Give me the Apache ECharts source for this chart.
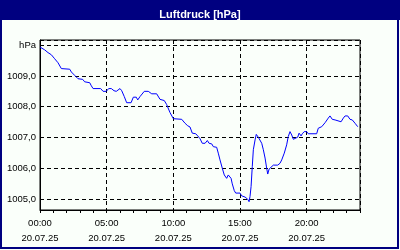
<!DOCTYPE html>
<html><head><meta charset="utf-8">
<script src="https://cdn.jsdelivr.net/npm/echarts@6/dist/echarts.min.js"></script>
<style>html,body{margin:0;padding:0;background:#fafffa}#c{width:400px;height:250px}</style>
</head><body><div id="c"></div>
<script>
const chartTitle = 'Luftdruck [hPa]';
const hours = [0.0,0.35,0.6,0.85,1.1,1.35,1.6,2.23,2.35,2.6,2.85,3.2,3.35,3.73,3.85,3.98,4.55,4.73,4.97,5.15,5.35,5.55,5.72,5.87,6.0,6.13,6.32,6.5,6.83,7.0,7.22,7.33,7.5,7.82,8.12,8.38,8.75,9.0,9.32,9.5,9.75,10.0,10.63,10.88,11.08,11.25,11.42,11.68,11.83,12.0,12.17,12.38,12.55,12.68,12.88,13.0,13.25,13.37,13.5,13.67,13.82,14.0,14.12,14.25,14.33,14.42,14.57,14.68,15.0,15.13,15.38,15.58,15.68,15.75,15.83,15.92,16.0,16.13,16.22,16.37,16.5,16.63,16.75,16.88,17.0,17.08,17.18,17.33,17.5,17.83,18.0,18.13,18.32,18.5,18.62,18.75,18.88,19.0,19.13,19.33,19.43,19.58,19.67,19.82,20.0,20.12,20.75,20.87,21.13,21.38,21.62,21.75,21.92,22.13,22.25,22.58,22.75,22.88,23.08,23.25,23.42,23.63,23.83];
const pressure = [1009.94,1009.85,1009.76,1009.69,1009.56,1009.43,1009.24,1009.22,1009.13,1009.02,1008.91,1008.89,1008.81,1008.78,1008.68,1008.59,1008.59,1008.50,1008.50,1008.59,1008.59,1008.52,1008.50,1008.55,1008.59,1008.52,1008.33,1008.13,1008.13,1008.31,1008.31,1008.22,1008.33,1008.50,1008.50,1008.42,1008.42,1008.24,1008.20,1008.07,1007.81,1007.61,1007.59,1007.46,1007.38,1007.34,1007.14,1007.12,1007.05,1006.96,1006.81,1006.81,1006.90,1006.81,1006.79,1006.70,1006.68,1006.49,1006.27,1006.00,1005.78,1005.67,1005.78,1005.81,1005.67,1005.49,1005.27,1005.19,1005.19,1005.10,1005.06,1004.99,1004.91,1005.08,1005.40,1006.05,1006.60,1006.92,1007.10,1007.01,1006.98,1006.81,1006.60,1006.33,1006.00,1005.81,1005.97,1006.00,1006.10,1006.10,1006.16,1006.27,1006.49,1006.76,1007.03,1007.19,1007.08,1006.94,1006.98,1007.01,1007.14,1007.05,1007.12,1007.19,1007.19,1007.12,1007.12,1007.30,1007.35,1007.48,1007.63,1007.70,1007.59,1007.57,1007.51,1007.51,1007.63,1007.70,1007.70,1007.59,1007.57,1007.46,1007.35];
const xTickHours = [0, 5, 10, 15, 20];
const xTickLabels = ['00:00', '05:00', '10:00', '15:00', '20:00'];
const dateLabel = '20.07.25';
const yTickValues = [1005, 1006, 1007, 1008, 1009, 1010];
const yTickLabels = ['1005,0', '1006,0', '1007,0', '1008,0', '1009,0', 'hPa'];
const xMin = 0, xMax = 24;
const yMin = 1004.64, yMax = 1010.17;

const font = 'Liberation Sans';
const chart = echarts.init(document.getElementById('c'), null, {renderer: 'canvas'});
const dash = [4, 3];
chart.setOption({
  animation: false,
  backgroundColor: '#fafffa',
  title: {
    text: chartTitle, left: 'center', top: 4,
    textStyle: {color: '#ffffff', fontSize: 11, fontWeight: 'bold', fontFamily: font}
  },
  graphic: [
    {type: 'rect', z: -1, shape: {x: 0, y: 0, width: 400, height: 20}, style: {fill: '#000080'}},
    {type: 'rect', z: -1, shape: {x: 1, y: 1, width: 397, height: 247}, style: {fill: null, stroke: '#000080', lineWidth: 2}}
  ],
  grid: {left: 40, right: 40, top: 40, bottom: 40, show: true, borderColor: '#000', borderWidth: 1, backgroundColor: 'transparent'},
  xAxis: [{
    type: 'value', min: xMin, max: xMax, interval: 5,
    axisLine: {show: true, lineStyle: {color: '#000', width: 1}},
    axisTick: {show: false},
    splitLine: {show: true, lineStyle: {color: '#000', type: dash, width: 1}},
    axisLabel: {
      show: true, margin: 6, color: '#000', fontSize: 9.5, fontFamily: font, lineHeight: 15,
      showMaxLabel: false,
      formatter: v => {
        const i = xTickHours.findIndex(h => Math.abs(h - v) < 1e-6);
        return i < 0 ? '' : xTickLabels[i] + '\n' + dateLabel;
      }
    }
  }, {
    type: 'value', min: xMin, max: xMax, interval: 1, position: 'bottom',
    axisLine: {show: false}, splitLine: {show: false}, axisLabel: {show: false},
    axisTick: {show: true, inside: false, length: 3, lineStyle: {color: '#000', width: 1}}
  }],
  yAxis: {
    type: 'value', min: yMin, max: yMax,
    axisLine: {show: true, lineStyle: {color: '#000', width: 1}},
    axisTick: {show: false},
    splitLine: {show: true, lineStyle: {color: '#000', type: dash, width: 1}},
    axisLabel: {
      margin: 4, color: '#000', fontSize: 9.5, fontFamily: font,
      formatter: v => {
        const i = yTickValues.findIndex(t => Math.abs(t - v) < 1e-6);
        return i < 0 ? '' : yTickLabels[i];
      }
    }
  },
  series: [{
    type: 'line', xAxisIndex: 0, showSymbol: false, symbol: 'none',
    lineStyle: {color: '#0000ff', width: 1},
    data: hours.map((h, i) => [h, pressure[i]])
  }]
});
</script></body></html>
